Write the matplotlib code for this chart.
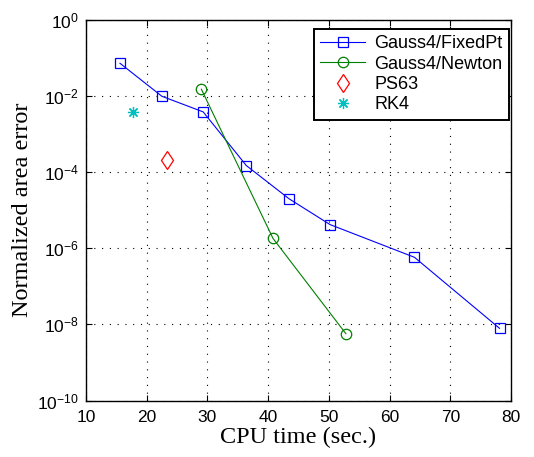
import numpy as np
import matplotlib
matplotlib.use('Agg')
import matplotlib.pyplot as plt
from matplotlib.ticker import NullLocator

plt.rcParams['font.family'] = 'Liberation Sans'
plt.rcParams['mathtext.fontset'] = 'custom'
plt.rcParams['mathtext.rm'] = 'Liberation Sans'
plt.rcParams['mathtext.it'] = 'Liberation Sans'

# CPU time (sec.) and normalized area error for each integrator
fixedpt_time = [15.6, 22.5, 29.3, 36.4, 43.45, 50.2, 64.1, 78.1]
fixedpt_err = [7.3e-2, 9.9e-3, 3.85e-3, 1.5e-4, 2.0e-5, 4.2e-6, 5.8e-7, 7.9e-9]

newton_time = [29.0, 40.8, 52.8]
newton_err = [1.52e-2, 1.82e-6, 5.7e-9]

ps63_time = [23.4]
ps63_err = [2.15e-4]

rk4_time = [17.7]
rk4_err = [3.9e-3]

xticks = [10, 20, 30, 40, 50, 60, 70, 80]
yticks = [1e0, 1e-2, 1e-4, 1e-6, 1e-8, 1e-10]

fig = plt.figure(figsize=(5.34, 4.57), dpi=100)
ax = fig.add_axes([0.161, 0.1236, 0.796, 0.8326])

ax.semilogy(fixedpt_time, fixedpt_err, color='b', marker='s', markersize=7,
            markerfacecolor='none', markeredgewidth=0.9, linewidth=0.8,
            label='Gauss4/FixedPt')
ax.semilogy(newton_time, newton_err, color=(0, 0.5, 0), marker='o', markersize=7.5,
            markerfacecolor='none', markeredgewidth=0.9, linewidth=0.8,
            label='Gauss4/Newton')
ax.semilogy(ps63_time, ps63_err, linestyle='none', color='r', marker='d', markersize=9.5,
            markerfacecolor='none', markeredgewidth=0.9, label='PS63')
ax.semilogy(rk4_time, rk4_err, linestyle='none', color=(0, 0.75, 0.75), marker=(8, 2, 0),
            markersize=8, markeredgewidth=0.9, label='RK4')

ax.set_xlim(10, 80)
ax.set_ylim(1e-10, 1e0)
ax.set_xticks(xticks)
ax.set_yticks(yticks)
ax.yaxis.set_minor_locator(NullLocator())
ax.tick_params(direction='in', length=4, labelsize=12.5, top=True, right=True, width=0.8)
ax.tick_params(axis='x', pad=7)
ax.tick_params(axis='y', pad=5)
ax.grid(True, which='major', linestyle=(0, (1, 6)), color='k', linewidth=0.8)
for s in ax.spines.values():
    s.set_linewidth(1.0)

ax.set_xlabel('CPU time (sec.)', family='Liberation Serif', fontsize=17.5, labelpad=1)
ax.set_ylabel('Normalized area error', family='Liberation Serif', fontsize=17.5, labelpad=3)

leg = ax.legend(loc='upper right', bbox_to_anchor=(0.995, 0.976), borderaxespad=0,
                fontsize=13, fancybox=False, framealpha=1, edgecolor='k',
                handlelength=2.5, labelspacing=0.18, borderpad=0.35,
                handletextpad=0.5)
leg.get_frame().set_linewidth(1.4)

fig.savefig('out.png', dpi=100)
